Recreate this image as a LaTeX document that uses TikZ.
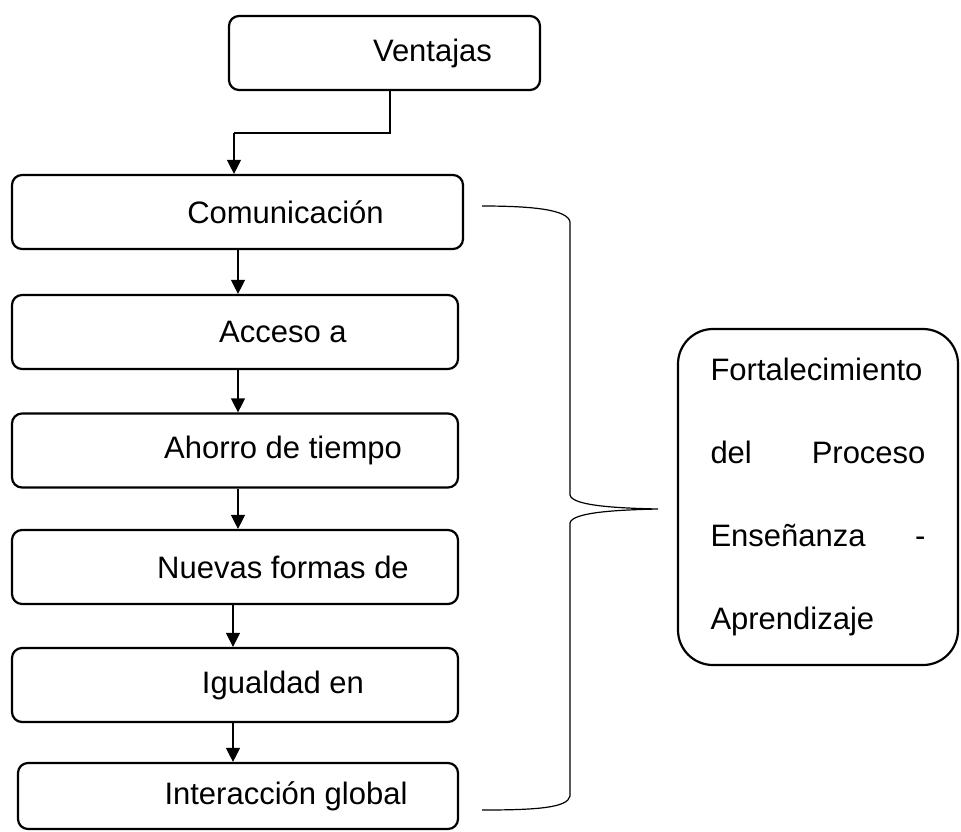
\documentclass[tikz,border=0pt]{standalone}
\usepackage{fontspec}
\setmainfont{Liberation Sans}
\usetikzlibrary{arrows.meta}

\begin{document}
\begin{tikzpicture}[x=1pt, y=-1pt]
\useasboundingbox (0,0) rectangle (961,831);
\begin{scope}[every node/.style = {draw, rounded corners=10pt, line width=2.2pt, minimum height=74pt, inner sep=0pt, font=\fontsize{31}{37}\selectfont}]
\node[minimum width=311pt] (ventajas) at (384.5, 53) {\hspace*{96pt}Ventajas};
\node[minimum width=451pt] (comunicacion) at (237.5, 212) {\hspace*{96pt}Comunicación};
\node[minimum width=446pt] (acceso) at (235, 332) {\hspace*{96pt}Acceso a};
\node[minimum width=446pt] (ahorro) at (235, 450.5) {\hspace*{96pt}Ahorro de tiempo};
\node[minimum width=446pt] (nuevas) at (235, 567) {\hspace*{96pt}Nuevas formas de};
\node[minimum width=446pt] (igualdad) at (235, 685) {\hspace*{96pt}Igualdad en};
\node[minimum width=440pt, minimum height=66pt] (interaccion) at (238, 796) {\hspace*{96pt}Interacción global};
\node[rounded corners=35pt, minimum width=280pt, minimum height=336pt, text width=215pt, align=left, font=\fontsize{31}{83}\selectfont] (fortalecimiento) at (818, 497) {Fortalecimiento\\ del\hfill Proceso\\ Enseñanza\hfill -\\ Aprendizaje};
\end{scope}
\coordinate (codo) at (234, 133);
\begin{scope}[every edge/.style = {draw, line width=1.2pt, -{Triangle[width=14pt, length=14pt]}}]
\draw[line width=1.2pt] ([xshift=5.5pt]ventajas.south) |- (codo);
\path (codo) edge (codo |- comunicacion.north);
\path ([xshift=3pt]acceso.north |- comunicacion.south) edge ([xshift=3pt]acceso.north);
\path ([xshift=3pt]acceso.south) edge ([xshift=3pt]acceso.south |- ahorro.north);
\path ([xshift=3pt]ahorro.south) edge ([xshift=3pt]ahorro.south |- nuevas.north);
\path ([xshift=-2pt]nuevas.south) edge ([xshift=-2pt]nuevas.south |- igualdad.north);
\path ([xshift=-2pt]igualdad.south) edge ([xshift=-2pt]igualdad.south |- interaccion.north);
\end{scope}
% llave
\draw[line width=1.2pt] (482,206) .. controls (535,206) and (568,210) .. (570,222)
  -- (570,495) .. controls (572,505) and (610,508) .. (658,509)
  .. controls (610,510) and (572,513) .. (570,523)
  -- (570,796) .. controls (568,808) and (535,810) .. (482,810);
\end{tikzpicture}
\end{document}
